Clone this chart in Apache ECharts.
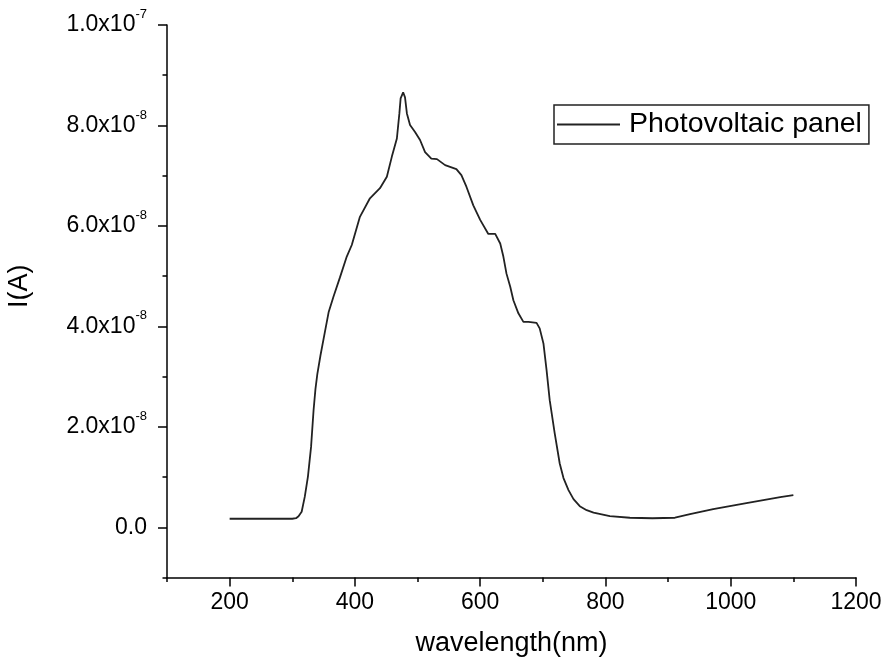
<!DOCTYPE html>
<html>
<head>
<meta charset="utf-8">
<script src="https://cdn.jsdelivr.net/npm/echarts@6/dist/echarts.min.js"></script>
<style>
html,body{margin:0;padding:0;background:#fff;}
#chart{width:883px;height:665px;}
</style>
</head>
<body>
<div id="chart"></div>
<script>
// Wavelength (nm)
const wavelength = [200, 250, 300, 306, 310, 315, 320, 325, 330, 334, 337, 340, 345, 350, 358, 366, 376, 387, 395, 408, 424, 440, 451, 459, 467, 471, 473, 477, 480, 483, 488, 496, 504, 512, 522, 531, 544, 562, 570, 578, 589, 600, 613, 624, 632, 637, 642, 648, 653, 661, 669, 677, 690, 695, 701, 706, 711, 719, 727, 733, 741, 749, 759, 770, 781, 807, 839, 875, 911, 935, 972, 1025, 1079, 1100];
// Current I(A), in units of 1e-8 A
const currentE8 = [0.17, 0.17, 0.17, 0.18, 0.22, 0.31, 0.61, 1.01, 1.60, 2.33, 2.75, 3.05, 3.42, 3.75, 4.28, 4.60, 4.97, 5.39, 5.62, 6.18, 6.55, 6.75, 6.98, 7.38, 7.74, 8.24, 8.54, 8.66, 8.56, 8.24, 8.01, 7.87, 7.71, 7.47, 7.34, 7.33, 7.21, 7.13, 7.01, 6.78, 6.41, 6.12, 5.84, 5.84, 5.65, 5.39, 5.05, 4.79, 4.52, 4.26, 4.09, 4.09, 4.07, 3.96, 3.66, 3.13, 2.53, 1.87, 1.27, 0.98, 0.74, 0.56, 0.42, 0.34, 0.29, 0.22, 0.19, 0.18, 0.19, 0.26, 0.36, 0.48, 0.60, 0.64];

const seriesName = 'Photovoltaic panel';
const xMajorTicks = [200, 400, 600, 800, 1000, 1200];
const yMajorTicks = [0, 2, 4, 6, 8, 10];
const yTickMantissa = ['0.0', '2.0x10', '4.0x10', '6.0x10', '8.0x10', '1.0x10'];
const yTickExponent = ['', '-8', '-8', '-8', '-8', '-7'];

const FONT = 'Liberation Sans, Arial, sans-serif';
const chart = echarts.init(document.getElementById('chart'), null, {renderer: 'canvas'});

const data = wavelength.map((w, i) => [w, currentE8[i]]);

function yLabel(v) {
  const i = yMajorTicks.indexOf(Math.round(v));
  if (i < 0) return '';
  if (!yTickExponent[i]) return '{z|' + yTickMantissa[i] + '}';
  return '{m|' + yTickMantissa[i] + '}{s|' + yTickExponent[i] + '}';
}

const option = {
  animation: false,
  backgroundColor: '#ffffff',
  grid: {left: 167, right: 27, top: 25, bottom: 87.5, containLabel: false, outerBoundsMode: 'none'},
  legend: {
    show: true,
    left: 554, top: 105,
    orient: 'horizontal',
    borderColor: '#222', borderWidth: 1.5,
    padding: [5, 7, 5, 3],
    icon: 'rect',
    itemWidth: 63, itemHeight: 2,
    itemStyle: {color: '#222', borderWidth: 0},
    textStyle: {fontFamily: FONT, fontSize: 28.5, color: '#000', lineHeight: 29, padding: [0, 0, 0, 4]},
    data: [seriesName]
  },
  xAxis: [
    {
      type: 'value', min: 100, max: 1200, interval: 100,
      position: 'bottom',
      name: 'wavelength(nm)', nameLocation: 'middle', nameGap: 53,
      nameTextStyle: {fontFamily: FONT, fontSize: 27, color: '#000'},
      axisLine: {show: true, onZero: false, lineStyle: {color: '#000', width: 1.5}},
      axisTick: {show: true, inside: false, length: 4.5, lineStyle: {color: '#000', width: 1.5}},
      axisLabel: {show: true, customValues: xMajorTicks, margin: 14, fontFamily: FONT, fontSize: 23, color: '#000',
        formatter: v => String(v)},
      splitLine: {show: false}
    },
    {
      type: 'value', min: 100, max: 1200,
      position: 'bottom', offset: 0,
      axisLine: {show: false, onZero: false},
      axisTick: {show: true, inside: false, customValues: xMajorTicks, length: 9, lineStyle: {color: '#000', width: 1.5}},
      axisLabel: {show: false},
      splitLine: {show: false}
    }
  ],
  yAxis: [
    {
      type: 'value', min: -1, max: 10, interval: 1,
      position: 'left',
      name: 'I(A)', nameLocation: 'middle', nameGap: 134,
      nameTextStyle: {fontFamily: FONT, fontSize: 27, color: '#000', padding: [0, 0, 0, 30]},
      axisLine: {show: true, onZero: false, lineStyle: {color: '#000', width: 1.5}},
      axisTick: {show: true, inside: false, length: 4.5, lineStyle: {color: '#000', width: 1.5}},
      axisLabel: {
        show: true, customValues: yMajorTicks, margin: 20,
        formatter: yLabel,
        rich: {
          m: {fontFamily: FONT, fontSize: 23, lineHeight: 22, color: '#000', verticalAlign: 'middle'},
          s: {fontFamily: FONT, fontSize: 13, lineHeight: 34, color: '#000', verticalAlign: 'top', padding: [0, 0, 20, 0]},
          z: {fontFamily: FONT, fontSize: 23, lineHeight: 22, color: '#000'}
        }
      },
      splitLine: {show: false}
    },
    {
      type: 'value', min: -1, max: 10,
      position: 'left', offset: 0,
      axisLine: {show: false, onZero: false},
      axisTick: {show: true, inside: false, customValues: yMajorTicks, length: 9, lineStyle: {color: '#000', width: 1.5}},
      axisLabel: {show: false},
      splitLine: {show: false}
    }
  ],
  series: [{
    name: seriesName,
    type: 'line',
    xAxisIndex: 0, yAxisIndex: 0,
    data: data,
    symbol: 'none',
    showSymbol: false,
    smooth: false,
    lineStyle: {color: '#222', width: 1.8},
    itemStyle: {color: '#222'}
  }]
};
chart.setOption(option);
</script>
</body>
</html>
